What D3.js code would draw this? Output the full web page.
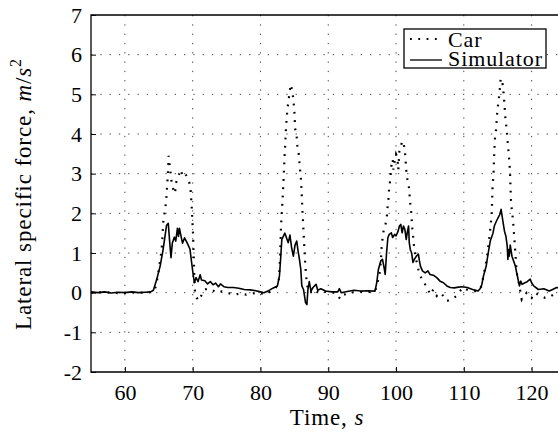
<!DOCTYPE html>
<html>
<head>
<meta charset="utf-8">
<script src="https://cdn.jsdelivr.net/npm/d3@7"></script>
<style>
  body { margin: 0; background: #fff; }
</style>
</head>
<body>
<svg id="chart" width="558" height="435"></svg>
<script>
// axis ticks
const xTicks = [60, 70, 80, 90, 100, 110, 120];
const yTicks = [-2, -1, 0, 1, 2, 3, 4, 5, 6, 7];

// Simulator (solid line)
const simTime = [55, 56, 57, 58, 59, 60, 61, 62, 63, 63.8, 64.2, 64.7, 65.2, 65.6, 65.9, 66.15, 66.4, 66.6, 66.8, 67.0,
  67.3, 67.5, 67.75, 67.9, 68.05, 68.25, 68.5, 68.8, 69.2, 69.6, 69.85, 70.1, 70.25, 70.5, 70.8, 71.1, 71.3, 71.8, 72.2, 72.6,
  73.0, 73.4, 73.8, 74.1, 74.6, 75.2, 76.0, 76.8, 77.6, 78.5, 79.3, 80.0, 80.5, 81.2, 81.9, 82.5, 82.8, 83.0, 83.15, 83.4,
  83.6, 83.85, 84.1, 84.35, 84.6, 84.85, 85.1, 85.35, 85.55, 85.75, 85.95, 86.1, 86.35, 86.65, 86.85, 87.0, 87.2, 87.45, 87.75, 88.2,
  88.45, 88.9, 89.6, 90.5, 91.4, 91.65, 91.9, 92.8, 93.8, 94.8, 95.8, 96.9, 97.15, 97.4, 97.75, 98.0, 98.2, 98.4, 98.6, 98.8,
  99.0, 99.3, 99.5, 99.8, 100.0, 100.3, 100.5, 100.7, 100.9, 101.1, 101.3, 101.5, 101.65, 101.85, 101.95, 102.1, 102.3, 102.5, 102.7, 103.0,
  103.3, 103.45, 103.6, 103.9, 104.3, 104.7, 105.0, 105.5, 106.0, 106.5, 107.0, 107.5, 108.0, 108.6, 109.2, 109.7, 110.5, 111.0, 111.5, 112.1,
  112.4, 112.65, 112.9, 113.3, 113.6, 113.9, 114.3, 114.5, 114.8, 115.0, 115.3, 115.5, 115.65, 115.8, 116.0, 116.2, 116.4, 116.5, 116.6, 116.7,
  116.85, 117.1, 117.6, 117.9, 118.2, 118.4, 118.6, 119.0, 119.3, 119.8, 120.0, 120.3, 121.0, 121.8, 122.6, 123.1, 123.7, 124.5, 125];
const simValue = [0.02, 0.0, 0.02, -0.01, 0.01, 0.0, 0.02, 0.0, 0.01, 0.02, 0.06, 0.34, 0.67, 1.05, 1.4, 1.7, 1.75, 1.3, 0.88, 1.25,
  1.4, 1.3, 1.62, 1.42, 1.62, 1.45, 1.25, 1.38, 1.25, 1.1, 0.75, 0.42, 0.25, 0.38, 0.28, 0.45, 0.32, 0.3, 0.22, 0.28,
  0.2, 0.24, 0.15, 0.22, 0.15, 0.13, 0.13, 0.11, 0.08, 0.07, 0.05, 0.02, 0.0, 0.05, 0.12, 0.17, 0.42, 0.92, 1.34, 1.43,
  1.5, 1.38, 1.26, 1.45, 1.13, 0.92, 1.2, 1.3, 1.05, 0.84, 0.59, 0.17, 0.08, -0.25, -0.3, 0.08, 0.28, 0.04, 0.13, 0.21,
  0.06, 0.1, 0.04, 0.02, 0.02, 0.1, 0.0, 0.03, 0.06, 0.04, 0.05, 0.04, 0.25, 0.59, 0.8, 0.84, 0.67, 0.46, 1.0, 1.39,
  1.47, 1.51, 1.39, 1.47, 1.43, 1.55, 1.68, 1.72, 1.51, 1.68, 1.6, 1.34, 1.51, 1.68, 1.26, 1.09, 1.0, 0.76, 0.84, 0.92,
  0.97, 0.8, 0.67, 0.55, 0.5, 0.55, 0.46, 0.44, 0.38, 0.29, 0.25, 0.17, 0.13, 0.12, 0.14, 0.15, 0.13, 0.1, 0.07, 0.04,
  0.1, 0.2, 0.42, 0.67, 1.0, 1.3, 1.5, 1.68, 1.8, 1.87, 1.97, 2.1, 1.93, 1.76, 1.55, 1.43, 1.18, 0.84, 1.09, 0.92,
  1.2, 0.92, 0.67, 0.42, 0.17, 0.29, 0.21, 0.25, 0.27, 0.34, 0.25, 0.17, 0.08, 0.1, 0.04, 0.08, 0.13, 0.1, 0.12];

// Car (dotted line)
const carTime = [55, 57, 59, 61, 63, 64.2, 64.6, 64.93, 65.18, 65.43, 65.67, 65.92, 66.07, 66.16, 66.26, 66.35, 66.45, 66.56, 66.75, 66.9,
  67.15, 67.39, 67.54, 67.74, 68.03, 68.23, 68.52, 68.87, 69.11, 69.51, 69.7, 69.85, 69.95, 70.05, 70.12, 70.2, 70.25, 70.34, 70.59, 70.95,
  71.33, 71.8, 72.3, 72.8, 73.5, 74.3, 75.0, 76.2, 77.0, 77.9, 78.8, 79.7, 80.6, 81.4, 82.2, 82.7, 82.9, 83.0, 83.08, 83.18,
  83.28, 83.38, 83.47, 83.55, 83.65, 83.75, 83.87, 83.97, 84.11, 84.26, 84.46, 84.7, 84.85, 85.0, 85.1, 85.34, 85.44, 85.64, 85.74, 85.84,
  85.98, 86.08, 86.18, 86.28, 86.38, 86.48, 86.58, 86.75, 86.92, 87.2, 87.6, 88.0, 88.5, 89.3, 90.2, 91.0, 91.5, 91.8, 92.2, 93.0,
  94.5, 96.0, 96.9, 97.15, 97.39, 97.64, 97.79, 97.88, 98.03, 98.23, 98.38, 98.62, 98.72, 98.87, 98.97, 99.11, 99.26, 99.36, 99.51, 99.61,
  99.75, 100.0, 100.2, 100.34, 100.49, 100.69, 100.84, 101.08, 101.33, 101.57, 101.82, 101.97, 102.06, 102.21, 102.31, 102.41, 102.56, 102.7, 102.95, 103.29,
  103.54, 103.79, 104.03, 104.52, 104.8, 105.02, 105.5, 106.0, 106.49, 106.98, 107.47, 108.21, 108.95, 109.44, 109.93, 110.43, 111.16, 112.15, 112.64, 112.88,
  113.38, 113.77, 114.11, 114.21, 114.26, 114.36, 114.46, 114.51, 114.6, 114.75, 114.85, 114.95, 115.1, 115.24, 115.34, 115.44, 115.69, 115.83, 115.98, 116.13,
  116.33, 116.47, 116.57, 116.72, 116.82, 116.92, 116.97, 117.11, 117.21, 117.31, 117.46, 117.56, 117.7, 117.8, 118.05, 118.29, 118.54, 118.79, 119.28, 119.7,
  120.02, 120.51, 121.25, 121.98, 122.48, 123.2, 124, 125];
const carValue = [0.0, 0.01, -0.01, 0.0, 0.0, 0.02, 0.17, 0.5, 0.8, 1.08, 1.8, 2.1, 2.27, 2.5, 2.77, 3.02, 3.45, 3.27, 3.0, 2.77,
  2.6, 2.5, 2.77, 2.86, 3.0, 3.1, 2.94, 3.0, 2.94, 2.77, 2.56, 2.18, 1.85, 1.5, 1.08, 0.67, 0.34, 0.0, -0.13, -0.2,
  -0.05, 0.08, 0.1, 0.08, 0.0, 0.03, 0.0, -0.05, -0.02, -0.05, -0.02, 0.0, -0.04, 0.02, 0.1, 0.3, 0.9, 1.5, 1.84, 2.1,
  2.4, 2.77, 3.1, 3.4, 3.74, 4.1, 4.41, 4.62, 4.8, 5.0, 5.25, 5.1, 4.87, 4.6, 4.15, 3.95, 3.7, 3.5, 3.3, 3.1,
  2.85, 2.5, 2.1, 1.8, 1.45, 1.1, 0.8, 0.4, 0.17, 0.0, 0.02, 0.08, 0.0, 0.03, 0.0, 0.0, -0.1, -0.16, -0.06, 0.0,
  0.02, 0.02, 0.03, 0.17, 0.34, 0.55, 0.88, 1.17, 1.39, 1.64, 1.68, 1.85, 2.1, 2.35, 2.6, 2.8, 3.06, 3.27, 3.36, 3.1,
  3.27, 3.49, 3.4, 3.1, 3.57, 3.66, 3.78, 3.82, 3.52, 2.93, 2.77, 2.56, 2.3, 2.1, 1.85, 1.6, 1.34, 1.09, 0.84, 0.59,
  0.46, 0.34, 0.25, 0.17, 0.05, -0.05, 0.08, -0.08, 0.0, -0.08, -0.21, -0.17, -0.08, 0.04, 0.13, 0.08, 0.04, 0.04, 0.17, 0.42,
  0.84, 1.4, 1.96, 2.5, 2.77, 2.9, 3.4, 3.6, 3.9, 4.1, 4.35, 4.6, 4.8, 5.0, 5.2, 5.4, 5.3, 5.1, 4.8, 4.4,
  4.1, 3.8, 3.6, 3.3, 3.0, 2.5, 2.26, 2.05, 1.9, 1.7, 1.35, 1.1, 0.76, 0.5, 0.3, 0.08, -0.17, -0.1, 0.0, -0.05,
  -0.13, 0.0, -0.08, -0.13, -0.13, -0.05, -0.1, -0.08];

const serif = "'Liberation Serif'";
const svg = d3.select("#chart");
const plotLeft = 91, plotTop = 15, plotBottom = 372, plotRight = 565.5;

const x = d3.scaleLinear().domain([55, 125]).range([plotLeft, plotRight]);
const y = d3.scaleLinear().domain([-2, 7]).range([plotBottom, plotTop]);

svg.append("defs").append("clipPath").attr("id", "plotclip")
  .append("rect").attr("x", plotLeft).attr("y", plotTop)
  .attr("width", plotRight - plotLeft).attr("height", plotBottom - plotTop);

// dotted grid
const grid = svg.append("g").attr("stroke", "#444").attr("stroke-width", 1).attr("stroke-dasharray", "1.3,8");
grid.selectAll(".vg").data(xTicks).enter().append("line")
  .attr("x1", d => x(d)).attr("x2", d => x(d)).attr("y1", plotTop).attr("y2", plotBottom);
grid.selectAll(".hg").data(yTicks.slice(1, -1)).enter().append("line")
  .attr("y1", d => y(d)).attr("y2", d => y(d)).attr("x1", plotLeft).attr("x2", plotRight);

// series
const plot = svg.append("g").attr("clip-path", "url(#plotclip)");
const line = d3.line().x(d => x(d[0])).y(d => y(d[1]));
plot.append("path")
  .datum(carTime.map((t, i) => [t, carValue[i]]))
  .attr("d", line)
  .attr("fill", "none").attr("stroke", "#000").attr("stroke-width", 2.2)
  .attr("stroke-dasharray", "1.8,6.5");

plot.append("path")
  .datum(simTime.map((t, i) => [t, simValue[i]]))
  .attr("d", line)
  .attr("fill", "none").attr("stroke", "#000").attr("stroke-width", 1.6)
  .attr("stroke-linejoin", "round");

// axes (ticks inside, labels outside)
const xAxis = d3.axisBottom(x).tickValues(xTicks).tickSize(-5).tickPadding(12).tickFormat(d => String(d));
const yAxis = d3.axisLeft(y).tickValues(yTicks).tickSize(-5).tickPadding(9).tickFormat(d => String(d));
const gx = svg.append("g").attr("transform", `translate(0,${plotBottom})`).call(xAxis);
const gy = svg.append("g").attr("transform", `translate(${plotLeft},0)`).call(yAxis);
[gx, gy].forEach(g => {
  g.select(".domain").remove();
  g.selectAll("line").attr("stroke", "#000").attr("stroke-width", 1);
  g.selectAll("text").attr("font-family", serif).attr("font-size", 22).attr("fill", "#000");
});

// frame
svg.append("path")
  .attr("d", `M${plotRight},${plotTop}H${plotLeft}V${plotBottom}H${plotRight}`)
  .attr("fill", "none").attr("stroke", "#000").attr("stroke-width", 1.3);

// axis titles
const xt = svg.append("text").attr("x", 327).attr("y", 425).attr("text-anchor", "middle")
  .attr("font-family", serif).attr("font-size", 23).attr("letter-spacing", 0.9);
xt.append("tspan").text("Time, ");
xt.append("tspan").attr("font-style", "italic").text("s");

const yt = svg.append("text").attr("transform", "translate(31,194) rotate(-90)")
  .attr("text-anchor", "middle").attr("font-family", serif).attr("font-size", 23).attr("letter-spacing", 0.9);
yt.append("tspan").text("Lateral specific force, ");
yt.append("tspan").attr("font-style", "italic").text("m");
yt.append("tspan").text("/");
yt.append("tspan").attr("font-style", "italic").text("s");
yt.append("tspan").attr("font-size", 16).attr("dy", -10).text("2");

// legend
const lg = svg.append("g");
lg.append("rect").attr("x", 404).attr("y", 29).attr("width", 142).attr("height", 39)
  .attr("fill", "#fff").attr("stroke", "#000").attr("stroke-width", 1.3);
lg.append("line").attr("x1", 410).attr("x2", 441).attr("y1", 39).attr("y2", 39)
  .attr("stroke", "#000").attr("stroke-width", 2.2).attr("stroke-dasharray", "1.8,6.5");
lg.append("line").attr("x1", 410).attr("x2", 442).attr("y1", 60).attr("y2", 60)
  .attr("stroke", "#000").attr("stroke-width", 1.3);
lg.append("text").attr("x", 448).attr("y", 47).attr("font-family", serif)
  .attr("font-size", 22).attr("letter-spacing", 0.9).text("Car");
lg.append("text").attr("x", 448).attr("y", 66).attr("font-family", serif)
  .attr("font-size", 22).attr("letter-spacing", 0.9).text("Simulator");
</script>
</body>
</html>
